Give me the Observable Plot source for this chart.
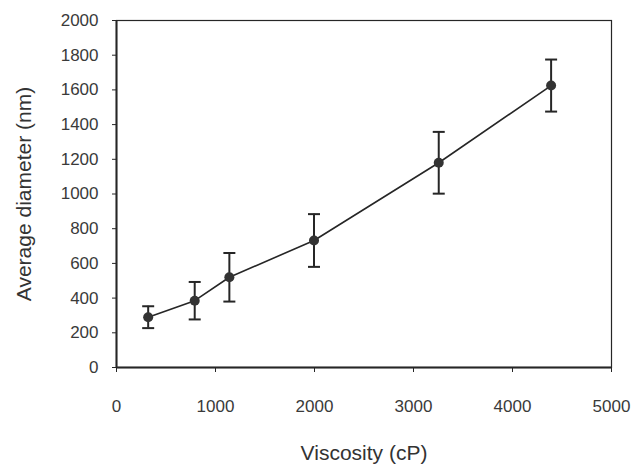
<!DOCTYPE html>
<html><head><meta charset="utf-8">
<script src="https://cdn.jsdelivr.net/npm/d3@7"></script>
<script src="https://cdn.jsdelivr.net/npm/@observablehq/plot@0.6"></script>
<style>body{margin:0;background:#fff}</style>
</head><body><div id="chart"></div>
<script>
const viscosity = [320, 790, 1140, 1995, 3255, 4390];
const diameter = [290, 385, 520, 732, 1180, 1625];
const errorBar = [63, 108, 140, 152, 178, 150];
const xTicks = [0, 1000, 2000, 3000, 4000, 5000];
const yTicks = [0, 200, 400, 600, 800, 1000, 1200, 1400, 1600, 1800, 2000];
const xLabel = "Viscosity (cP)";
const yLabel = "Average diameter (nm)";

const data = viscosity.map((v, i) => ({
  x: v, y: diameter[i], lo: diameter[i] - errorBar[i], hi: diameter[i] + errorBar[i]
}));
const capSymbol = {draw(ctx, size) { const r = Math.sqrt(size / Math.PI); ctx.moveTo(-r, 0); ctx.lineTo(r, 0); }};
const ink = "#262626";
const fmt = d => String(d);

const chart = Plot.plot({
  width: 631, height: 470,
  marginLeft: 116, marginRight: 20, marginTop: 20, marginBottom: 103,
  x: {domain: [0, 5000]},
  y: {domain: [0, 2000]},
  style: {fontFamily: "'Liberation Sans', Arial, sans-serif", color: "#333", background: "#fff"},
  marks: [
    Plot.frame({stroke: ink, strokeWidth: 1.2}),
    Plot.axisX(xTicks, {tickSize: 5, tickPadding: 27, fontSize: 17, label: null, tickFormat: fmt, stroke: ink, fill: "#3a3a3a"}),
    Plot.axisY(yTicks, {tickSize: 4, tickPadding: 14, fontSize: 17, label: null, tickFormat: fmt, stroke: ink, fill: "#3a3a3a"}),
    Plot.ruleX([0], {stroke: ink, strokeWidth: 2}),
    Plot.ruleY([0], {stroke: ink, strokeWidth: 2}),
    Plot.line(data, {x: "x", y: "y", stroke: ink, strokeWidth: 1.6}),
    Plot.ruleX(data, {x: "x", y1: "lo", y2: "hi", stroke: ink, strokeWidth: 2}),
    Plot.dot(data, {x: "x", y: "lo", symbol: capSymbol, r: 6, stroke: ink, strokeWidth: 2}),
    Plot.dot(data, {x: "x", y: "hi", symbol: capSymbol, r: 6, stroke: ink, strokeWidth: 2}),
    Plot.dot(data, {x: "x", y: "y", r: 5, fill: "#333", stroke: "none"}),
    Plot.text([xLabel], {text: d => d, frameAnchor: "bottom", textAnchor: "middle", dy: 92, fontSize: 21, fill: "#333"}),
    Plot.text([yLabel], {text: d => d, frameAnchor: "left", textAnchor: "middle", rotate: -90, dx: -92, fontSize: 21, fill: "#333"})
  ]
});
document.getElementById("chart").append(chart);
</script>
</body></html>
